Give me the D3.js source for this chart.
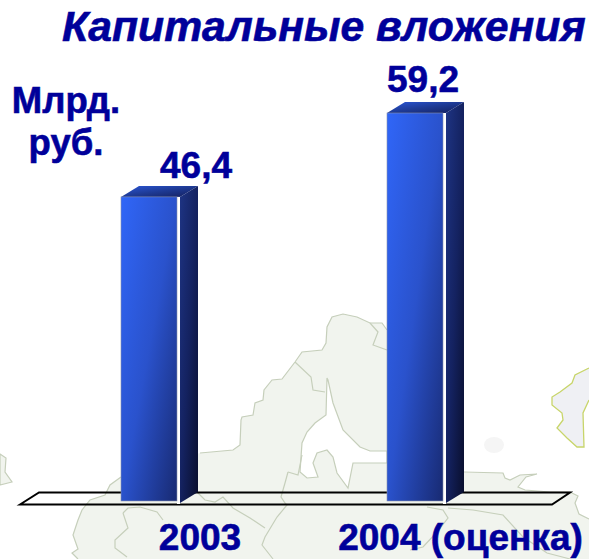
<!DOCTYPE html>
<html><head><meta charset="utf-8"><script src="https://cdn.jsdelivr.net/npm/d3@7"></script>
<style>html,body{margin:0;padding:0;background:#fff}svg{display:block}text{font-family:"Liberation Sans",Arial,sans-serif;font-weight:700;fill:#00009a;stroke:#00009a;stroke-width:.6px}</style></head><body><div id="c"></div>
<script>
const categories=["2003","2004 (оценка)"];
const values=[46.4,59.2];
const valueLabels=["46,4","59,2"];
const W=589,H=559;
const svg=d3.select("#c").append("svg").attr("width",W).attr("height",H);
const y=d3.scaleLinear().domain([0,59.2]).range([501,113]);
const x=d3.scaleOrdinal().domain(categories).range([121,387]);
const defs=svg.append("defs");
function grad(id,stops){const g=defs.append("linearGradient").attr("id",id).attr("x1",0).attr("y1",0).attr("x2",1).attr("y2",1);
 stops.forEach((c,i)=>g.append("stop").attr("offset",i/(stops.length-1)).attr("stop-color",c));}
grad("front",["#3066f8","#2a52cc","#182a72"]);
grad("side",["#1e3484","#142260","#090e2c"]);
grad("top",["#2b57d8","#1e3a94","#141f5c"]);
const blur=defs.append("filter").attr("id","soft");blur.append("feGaussianBlur").attr("stdDeviation",0.5);
// background map (decorative picture behind the chart)
const land="M200,453 L233,450 L240,445 L241,420 L242,417 L253,415 L255,403 L263,400 L264,390 L272,380 L282,379 L295,362 L302,352 L322,350 L326,343 L327,327 L332,317 L343,314 L357,317 L370,323 L382,323 L390,335 L420,335 L420,472 L503,473 L505,478 L510,480 L520,475 L537,474 L526,477 L518,487 L525,490 L550,492 L570,492 L578,496 L575,503 L579,514 L589,519 L589,559 L78,559 L72,553 L78,549 L73,535 L78,520 L82,510 L90,500 L105,495 L110,485 L121,477 Z";
const lake="M327,378 L326,415 L315,423 L307,432 L302,443 L300,472 L307,478 L318,477 L313,463 L317,453 L327,450 L333,457 L337,473 L348,488 L353,463 L387,463 L387,451 L370,451 L360,447 L343,430 L333,403 L328,380 Z";
const islandL="M0,454 L6,458 L5,472 L12,482 L0,485 Z";
const islandR="M589,368 L575,375 L572,383 L560,392 L552,397 L552,405 L562,413 L563,420 L557,428 L567,438 L577,447 L584,447 L583,413 L589,400";
const borders=[
 "M200,453 L233,450 L240,445 L241,420 L242,417 L253,415 L255,403 L263,400 L264,390 L272,380 L282,379 L295,362 L302,352 L322,350 L326,343 L327,327 L332,317 L343,314 L357,317 L370,323 L382,323 L387,330",
 "M295,362 L311,377 L313,390 L325,392",
 "M370,323 L378,332 L373,345 L387,350",
 "M198,493 L205,500 L215,502 L223,497 L233,508 L250,518 L265,528",
 "M288,472 L285,483 L281,497 L285,503 L287,505 L277,517 L265,537 L262,545 L273,559",
 "M288,472 L298,475 L302,455",
 "M123,513 L128,508 L140,507 L157,512 L163,520",
 "M123,513 L128,528 L115,540 L115,548 L127,557",
 "M121,477 L110,485 L105,495 L90,500 L82,510 L78,520 L73,535 L78,549 L72,553 L78,559",
 "M427,507 L443,510 L448,518 L437,532 L423,547 L410,550",
 "M448,508 L473,510 L503,515 L523,537 L547,553 L570,559",
 "M464,472 L503,473 L505,478 L510,480 L520,475 L537,474 L526,477 L518,487 L525,490 L550,492 L570,492 L578,496 L575,503 L579,514 L589,519"];
const map=svg.append("g").attr("filter","url(#soft)");
map.append("path").attr("d",land).attr("fill","#f1f4ee");
map.append("path").attr("d",lake).attr("fill","#fff").attr("stroke","#c6cfbb").attr("stroke-width",1.2);
map.append("path").attr("d",islandL).attr("fill","#f1f4ee").attr("stroke","#c6cfbb").attr("stroke-width",1.2);
map.append("path").attr("d",islandR+" Z").attr("fill","#eff0f4").attr("stroke","none");
map.append("path").attr("d",islandR).attr("fill","none").attr("stroke","#c8d56a").attr("stroke-width",1.3);
map.selectAll("path.m").data(borders).join("path").attr("class","m").attr("d",d=>d).attr("fill","none").attr("stroke","#c6cfbb").attr("stroke-width",1.2);
map.append("ellipse").attr("cx",494).attr("cy",445).attr("rx",10).attr("ry",8).attr("fill","#f5f5f5");
// floor
const dx=18,dy=11,gap=3,bw=56;
const floorTop=492.5,floorBot=504.5;
svg.append("path").attr("d",`M20,${floorBot} L39,${floorTop} L570,${floorTop} L552,${floorBot} Z`).attr("fill","none").attr("stroke","#000").attr("stroke-width",2);
// bars
const rows=categories.map((c,i)=>({c,v:values[i],l:valueLabels[i]}));
const bars=svg.selectAll("g.bar").data(rows).join("g").attr("class","bar");
bars.append("path").attr("fill","url(#top)").attr("d",d=>{const X=x(d.c),T=y(d.v);return `M${X},${T} L${X+dx},${T-dy} L${X+bw+gap+dx},${T-dy} L${X+bw+gap},${T} Z`;});
bars.append("rect").attr("fill","#fff").attr("x",d=>x(d.c)+bw).attr("y",d=>y(d.v)).attr("width",gap).attr("height",d=>y(0)-y(d.v)+3);
bars.append("path").attr("fill","url(#side)").attr("d",d=>{const X=x(d.c)+bw+gap,T=y(d.v);return `M${X},${T} L${X+dx},${T-dy} L${X+dx},${y(0)-9} L${X},${y(0)+2} Z`;});
bars.append("rect").attr("fill","url(#front)").attr("stroke","#8b93ad").attr("stroke-width",.6).attr("x",d=>x(d.c)).attr("y",d=>y(d.v)).attr("width",bw).attr("height",d=>y(0)-y(d.v));
// value labels
const valueX=[196,423],valueY=[178,92];
svg.selectAll("text.v").data(rows).join("text").attr("class","v").attr("text-anchor","middle").attr("font-size",37).attr("x",(d,i)=>valueX[i]).attr("y",(d,i)=>valueY[i]).text(d=>d.l);
// category labels
svg.selectAll("text.c").data(categories).join("text").attr("class","c").attr("font-size",37).attr("text-anchor","middle").attr("x",(d,i)=>[200,460.5][i]).attr("y",550).text(d=>d);
svg.append("text").attr("font-size",42.7).attr("font-style","italic").attr("x",62).attr("y",41).text("Капитальные вложения");
svg.append("text").attr("font-size",36.5).attr("text-anchor","middle").attr("x",66).attr("y",113).text("Млрд.");
svg.append("text").attr("font-size",36.5).attr("text-anchor","middle").attr("x",66).attr("y",155).text("руб.");
</script></body></html>
